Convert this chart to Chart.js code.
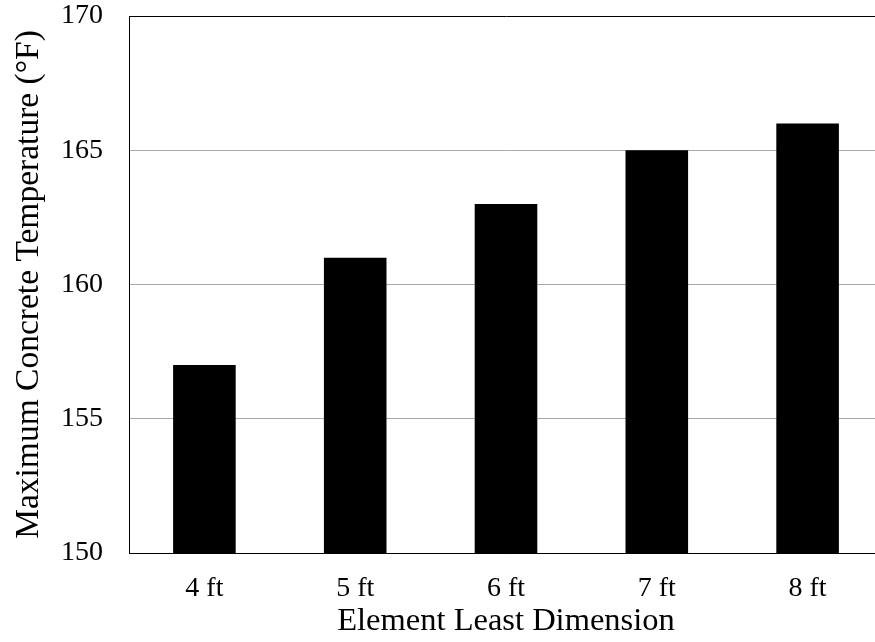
<!DOCTYPE html>
<html>
<head>
<meta charset="utf-8">
<script src="https://cdn.jsdelivr.net/npm/chart.js@4/dist/chart.umd.min.js"></script>
<style>
    html, body { margin: 0; padding: 0; background: #fff; overflow: hidden; }
    canvas { display: block; }
</style>
</head>
<body>
<canvas id="tempChart" width="890" height="642"></canvas>
<script>
const categories = ["4 ft", "5 ft", "6 ft", "7 ft", "8 ft"];
const maxTemps = [157, 161, 163, 165, 166];
const yMin = 150;
const yMax = 170;
const yStep = 5;

const serif = "'Liberation Serif', 'Times New Roman', serif";

const ctx = document.getElementById('tempChart').getContext('2d');

new Chart(ctx, {
    type: 'bar',
    data: {
        labels: categories,
        datasets: [{
            data: maxTemps,
            backgroundColor: '#000',
            borderWidth: 0,
            barPercentage: 0.415,
            categoryPercentage: 1
        }]
    },
    options: {
        responsive: false,
        animation: false,
        devicePixelRatio: 1,
        layout: {
            padding: { top: 16, right: 7, bottom: 0, left: 0 }
        },
        plugins: {
            legend: { display: false },
            tooltip: { enabled: false }
        },
        scales: {
            x: {
                grid: { display: false, drawTicks: false },
                border: { display: true, color: '#000', width: 1 },
                ticks: {
                    color: '#000',
                    padding: 19,
                    font: { family: serif, size: 28, lineHeight: 1.2 }
                },
                title: {
                    display: true,
                    text: 'Element Least Dimension',
                    color: '#000',
                    padding: { top: 0, bottom: 1 },
                    font: { family: serif, size: 32.5, lineHeight: 1.2 }
                },
                afterFit(scale) { scale.height = 89; }
            },
            y: {
                min: yMin,
                max: yMax,
                grid: {
                    drawTicks: false,
                    // top line closes the frame, inner lines are light gray
                    color: c => (c.tick && (c.tick.value === yMax || c.tick.value === yMin)) ? '#000' : '#a8a8a8',
                    lineWidth: 1
                },
                border: { display: true, color: '#000', width: 1 },
                ticks: {
                    stepSize: yStep,
                    color: '#000',
                    padding: 26,
                    font: { family: serif, size: 28, lineHeight: 1.1 }
                },
                title: {
                    display: true,
                    text: 'Maximum Concrete Temperature (°F)',
                    color: '#000',
                    padding: { top: 9, bottom: 0 },
                    font: { family: serif, size: 33.5, lineHeight: 1.2 }
                },
                afterFit(scale) {
                    scale.width = 129;
                    // don't let tick padding push the plot area down
                    scale.paddingTop = 0;
                    scale.paddingBottom = 0;
                }
            }
        }
    }
});
</script>
</body>
</html>
